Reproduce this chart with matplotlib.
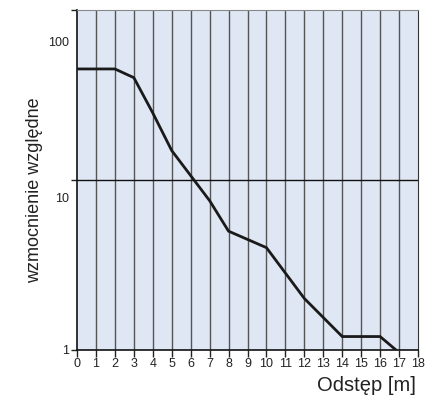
import matplotlib
matplotlib.use('Agg')
import matplotlib.pyplot as plt
from matplotlib import font_manager

# zwykła (nie wąska) Liberation Sans
sans = 'Liberation Sans'
for f in font_manager.fontManager.ttflist:
    if f.fname.endswith('LiberationSans-Regular.ttf'):
        sans = f.name
        break
plt.rcParams['font.family'] = [sans, 'DejaVu Sans']

odstep = [0, 2, 3, 4, 5, 7, 8, 10, 12, 14, 16, 16.84]
wzmocnienie = [45, 45, 40, 24.8, 14.9, 7.56, 5.0, 4.0, 2.01, 1.2, 1.2, 1.0]
xticks = list(range(19))

fig = plt.figure(figsize=(4.4, 3.99), dpi=100)
ax = fig.add_axes([77/440, 49/399, 341/440, 340/399])
ax.set_facecolor('#e0e7f4')

ax.set_yscale('log')
ax.set_xlim(0, 18)
ax.set_ylim(1, 100)

for x in xticks[1:-1]:
    ax.axvline(x, color='#555555', lw=1.0, zorder=1)
ax.axhline(10, color='#111111', lw=1.0, zorder=1)

ax.plot(odstep, wzmocnienie, color='#1a1a1a', lw=2.0, zorder=3, solid_joinstyle='miter')

ax.set_xticks(xticks)
ax.set_xticklabels([str(x) for x in xticks], fontsize=9)
ax.set_yticks([1, 10, 100])
ax.set_yticklabels(['1', '', ''], fontsize=9)
ax.yaxis.set_minor_locator(matplotlib.ticker.NullLocator())
ax.tick_params(axis='x', length=5, width=1, color='#222222', pad=1, labelcolor='#222222')
ax.tick_params(axis='y', length=4, width=1, color='#222222', pad=2, labelcolor='#222222')

# etykiety 10 i 100 przesunięte w dół jak w oryginale
for v, lab, dy in [(10, '10', -19), (100, '100', -33)]:
    ax.annotate(lab, xy=(0, v), xycoords=('axes fraction', 'data'),
                xytext=(-8, dy), textcoords='offset pixels',
                ha='right', va='center', fontsize=9, color='#222222')

for s in ['left', 'bottom']:
    ax.spines[s].set_color('#111111')
    ax.spines[s].set_linewidth(1.2)
ax.spines['top'].set_color('#888888')
ax.spines['right'].set_color('#333333')

ax.set_xlabel('Odstęp [m]', fontsize=14.5, color='#222222')
ax.xaxis.set_label_coords(0.995, -0.077)
ax.xaxis.label.set_ha('right')
ax.set_ylabel('wzmocnienie względne', fontsize=13, color='#222222')
ax.yaxis.set_label_coords(-0.10, 0.47)

fig.savefig('out.png', dpi=100)
